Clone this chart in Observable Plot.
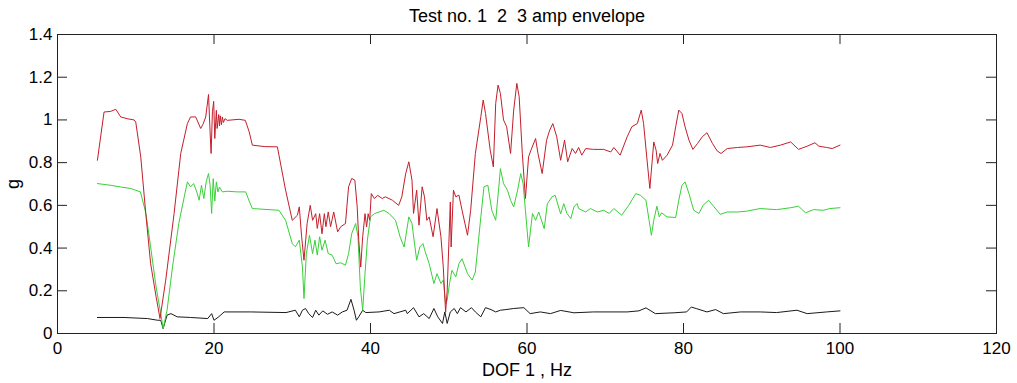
<!DOCTYPE html>
<html>
<head>
<meta charset="utf-8">
<script src="https://cdn.jsdelivr.net/npm/d3@7"></script>
<script src="https://cdn.jsdelivr.net/npm/@observablehq/plot@0.6"></script>
<style>
  html, body { margin: 0; padding: 0; background: #fff; }
  svg text { white-space: pre; }
</style>
</head>
<body>
<div id="chart"></div>
<script>
const titleText = "Test no. 1  2  3 amp envelope";
const xLabel = "DOF 1 , Hz";
const yLabel = "g";
const xTicks = [0, 20, 40, 60, 80, 100, 120];
const xTickLabels = ["0", "20", "40", "60", "80", "100", "120"];
const yTicks = [0, 0.2, 0.4, 0.6, 0.8, 1, 1.2, 1.4];
const yTickLabels = ["0", "0.2", "0.4", "0.6", "0.8", "1", "1.2", "1.4"];

// Test 1 (red)
const redX = [5.1,5.95,6.8,7.45,8.08,9.0,9.79,10.0,10.64,11.28,11.9,12.6,13.1,13.83,14.9,15.75,16.6,17.0,17.66,18.3,18.6,18.94,19.3,19.5,19.63,19.8,19.96,20.1,20.3,20.4,20.6,20.7,20.8,20.95,21.07,21.2,21.4,21.7,23.2,24.0,24.5,24.9,26.5,28.1,29.15,30.0,30.66,30.9,31.2,31.5,31.9,32.3,32.6,33.0,33.2,33.5,33.8,34.1,34.3,34.6,34.9,35.3,35.8,36.2,36.8,37.2,37.6,38.0,38.3,38.5,38.75,39.0,39.3,39.5,39.7,39.9,40.1,40.5,40.9,41.5,41.9,42.8,43.6,44.0,44.5,44.9,45.3,45.5,45.9,46.2,46.6,46.9,47.2,47.5,48.0,48.5,49.0,49.3,49.6,49.8,50.2,50.3,50.6,50.9,51.3,51.7,52.4,52.8,53.4,54.1,54.4,54.7,55.3,55.7,56.0,56.3,56.6,57.0,57.4,57.9,58.3,58.7,59.0,59.4,59.8,60.2,60.5,61.1,61.4,61.94,62.5,62.9,63.3,63.8,64.3,64.8,65.2,65.77,66.2,66.6,67.0,67.5,68.5,69.8,70.7,71.1,71.9,72.8,73.4,74.1,74.6,74.9,75.3,75.7,75.9,76.2,76.5,76.7,77.0,77.3,77.9,78.6,79.0,79.4,79.8,80.2,80.7,81.2,81.8,82.4,83.0,83.7,84.3,84.8,85.6,86.9,88.1,89.8,91.1,92.4,93.7,94.7,95.8,96.8,97.3,98.3,99.0,100.0];
const redY = [0.811,1.037,1.04,1.05,1.014,1.005,1.0,0.99,0.827,0.562,0.328,0.172,0.07,0.25,0.562,0.843,0.983,1.014,1.014,0.96,0.98,1.014,1.119,0.944,0.843,1.038,1.087,0.913,1.045,0.96,1.025,0.972,1.019,0.978,1.014,0.988,1.006,0.998,1.003,0.998,0.944,0.882,0.875,0.874,0.671,0.53,0.554,0.593,0.453,0.343,0.515,0.6,0.53,0.561,0.492,0.561,0.467,0.561,0.5,0.569,0.5,0.569,0.476,0.5,0.515,0.687,0.726,0.718,0.593,0.437,0.311,0.453,0.561,0.5,0.561,0.53,0.655,0.632,0.647,0.632,0.64,0.624,0.6,0.64,0.749,0.804,0.718,0.562,0.671,0.507,0.687,0.64,0.53,0.546,0.453,0.585,0.453,0.312,0.1,0.2,0.616,0.405,0.671,0.64,0.648,0.577,0.46,0.577,0.843,1.015,1.093,1.03,0.858,0.78,1.077,1.163,1.124,1.0,0.968,0.843,1.046,1.171,1.108,0.843,0.632,0.827,0.858,0.913,0.843,0.749,0.905,0.952,0.983,0.921,0.811,0.905,0.804,0.866,0.843,0.871,0.835,0.866,0.862,0.862,0.85,0.871,0.835,0.921,0.968,0.983,1.046,0.983,0.827,0.679,0.765,0.897,0.858,0.796,0.843,0.811,0.835,0.882,0.968,1.046,1.03,0.968,0.905,0.862,0.89,0.921,0.94,0.89,0.855,0.843,0.866,0.871,0.874,0.882,0.871,0.882,0.897,0.862,0.877,0.893,0.877,0.871,0.866,0.882];

// Test 2 (green)
const greenX = [5.1,6.8,8.08,9.36,10.6,11.3,11.9,12.6,13.2,13.5,14.0,14.7,15.5,16.2,16.6,17.0,17.4,17.8,18.1,18.4,18.7,19.0,19.3,19.5,19.7,19.9,20.1,20.3,20.5,20.7,21.07,21.7,23.0,24.05,24.5,24.9,28.3,29.15,30.0,30.4,30.9,31.3,31.5,31.8,32.2,32.6,32.9,33.2,33.5,33.8,34.2,34.6,35.1,35.6,36.2,36.8,37.2,37.6,38.1,38.4,38.7,39.0,39.3,39.6,40.0,40.5,41.1,41.7,42.4,43.2,43.8,44.3,44.9,45.3,45.9,46.3,46.7,47.0,47.5,48.1,48.5,49.0,49.3,49.6,49.8,50.1,50.4,50.9,51.3,51.7,52.4,53.0,53.4,54.1,54.5,55.0,55.5,56.0,56.4,56.6,57.0,57.5,57.9,58.3,58.8,59.2,59.5,59.8,60.2,60.7,61.1,61.5,62.2,62.6,63.2,63.6,64.3,64.7,65.1,65.6,66.0,66.4,66.6,67.5,68.1,69.0,69.8,70.5,71.1,72.1,73.0,73.9,74.5,75.2,75.6,75.9,76.2,76.6,76.9,77.2,77.9,79.0,79.4,79.8,80.2,80.7,81.3,81.97,82.5,83.2,83.9,84.7,85.6,86.9,88.1,89.8,91.9,93.7,94.7,95.6,96.6,97.9,98.7,100.0];
const greenY = [0.702,0.694,0.686,0.679,0.663,0.562,0.406,0.218,0.093,0.023,0.109,0.312,0.515,0.64,0.71,0.686,0.702,0.663,0.624,0.694,0.632,0.71,0.749,0.694,0.562,0.725,0.62,0.71,0.663,0.686,0.663,0.666,0.663,0.663,0.62,0.585,0.577,0.53,0.421,0.406,0.437,0.312,0.164,0.374,0.46,0.374,0.437,0.367,0.453,0.39,0.437,0.374,0.367,0.327,0.331,0.32,0.374,0.468,0.515,0.453,0.218,0.109,0.28,0.437,0.546,0.561,0.569,0.577,0.561,0.53,0.45,0.405,0.546,0.515,0.343,0.405,0.421,0.382,0.327,0.234,0.28,0.234,0.25,0.14,0.156,0.234,0.296,0.265,0.327,0.35,0.28,0.25,0.288,0.546,0.687,0.694,0.577,0.53,0.687,0.772,0.702,0.671,0.624,0.593,0.671,0.749,0.702,0.577,0.405,0.562,0.53,0.569,0.491,0.608,0.64,0.647,0.56,0.608,0.562,0.538,0.593,0.608,0.585,0.569,0.585,0.569,0.577,0.562,0.585,0.554,0.6,0.655,0.647,0.624,0.53,0.46,0.53,0.596,0.546,0.565,0.546,0.543,0.624,0.694,0.71,0.655,0.577,0.562,0.6,0.624,0.593,0.558,0.569,0.569,0.573,0.585,0.58,0.589,0.596,0.565,0.58,0.577,0.585,0.589];

// Test 3 (black)
const blackX = [5.1,8.5,11.5,12.8,13.2,13.5,14.0,14.5,15.3,17.0,19.2,19.7,20.0,20.6,21.3,24.7,29.2,30.4,30.9,31.3,31.7,32.1,32.6,33.0,33.4,33.9,34.5,35.1,35.8,36.4,37.0,37.5,37.9,38.2,38.5,39.0,39.4,41.1,42.4,43.0,44.5,44.7,45.5,46.2,46.8,47.5,48.1,48.6,49.2,49.5,49.8,50.2,50.7,51.1,51.5,52.2,52.9,53.4,54.1,54.7,55.4,56.0,56.6,57.3,58.3,59.6,60.4,61.7,63.0,64.3,66.0,68.5,72.8,74.3,75.2,76.4,78.8,80.4,81.0,81.7,83.0,84.1,85.1,87.3,89.8,91.9,94.5,95.8,98.3,100.0];
const blackY = [0.075,0.075,0.07,0.062,0.062,0.023,0.086,0.093,0.078,0.075,0.07,0.093,0.062,0.078,0.101,0.101,0.098,0.109,0.078,0.109,0.117,0.093,0.075,0.109,0.086,0.106,0.09,0.101,0.086,0.101,0.109,0.16,0.109,0.062,0.078,0.109,0.098,0.101,0.109,0.093,0.109,0.093,0.121,0.078,0.093,0.07,0.117,0.078,0.047,0.101,0.047,0.101,0.117,0.093,0.121,0.101,0.121,0.101,0.078,0.121,0.112,0.101,0.109,0.112,0.117,0.121,0.093,0.101,0.093,0.108,0.097,0.101,0.101,0.106,0.12,0.093,0.097,0.101,0.124,0.116,0.101,0.112,0.093,0.101,0.101,0.098,0.109,0.093,0.101,0.106];

const toRows = (xs, ys) => xs.map((x, i) => ({x, y: ys[i]}));
const red = toRows(redX, redY);
const green = toRows(greenX, greenY);
const black = toRows(blackX, blackY);

const W = 1017, H = 383;
const mL = 57, mR = 21, mT = 34, mB = 50;
const frameW = W - mL - mR, frameH = H - mT - mB;
const tick = 10;
const ink = "#222";

const chart = Plot.plot({
  width: W,
  height: H,
  marginLeft: mL,
  marginRight: mR,
  marginTop: mT,
  marginBottom: mB,
  style: {fontFamily: "'Liberation Sans', Arial, sans-serif", fontSize: "17px", background: "#fff", color: "#000"},
  x: {domain: [0, 120]},
  y: {domain: [0, 1.4]},
  marks: [
    Plot.line(black, {x: "x", y: "y", stroke: "#1a1a1a", strokeWidth: 1}),
    Plot.line(green, {x: "x", y: "y", stroke: "#38d038", strokeWidth: 1}),
    Plot.line(red, {x: "x", y: "y", stroke: "#c41e2a", strokeWidth: 1}),
    Plot.frame({stroke: ink, strokeWidth: 1}),
    Plot.gridX(xTicks, {stroke: ink, strokeOpacity: 1, insetTop: frameH - tick}),
    Plot.gridX(xTicks, {stroke: ink, strokeOpacity: 1, insetBottom: frameH - tick}),
    Plot.gridY(yTicks, {stroke: ink, strokeOpacity: 1, insetRight: frameW - tick}),
    Plot.gridY(yTicks, {stroke: ink, strokeOpacity: 1, insetLeft: frameW - tick}),
    Plot.axisX(xTicks, {tickSize: 0, tickPadding: 8, tickFormat: d => xTickLabels[xTicks.indexOf(d)], label: null, fontSize: 17, fill: "#000"}),
    Plot.axisY(yTicks, {tickSize: 0, tickPadding: 5, tickFormat: d => yTickLabels[yTicks.indexOf(d)], label: null, fontSize: 17, fill: "#000"}),
    Plot.text([titleText], {text: d => d, frameAnchor: "top", dy: -13, lineAnchor: "bottom", textAnchor: "middle", fontSize: 18, fill: "#000"}),
    Plot.text([xLabel], {text: d => d, frameAnchor: "bottom", dy: 42, lineAnchor: "bottom", textAnchor: "middle", fontSize: 18, fill: "#000"}),
    Plot.text([yLabel], {text: d => d, frameAnchor: "left", dx: -39, rotate: -90, lineAnchor: "bottom", textAnchor: "middle", fontSize: 18, fill: "#000"})
  ]
});
document.getElementById("chart").appendChild(chart);
</script>
</body>
</html>
